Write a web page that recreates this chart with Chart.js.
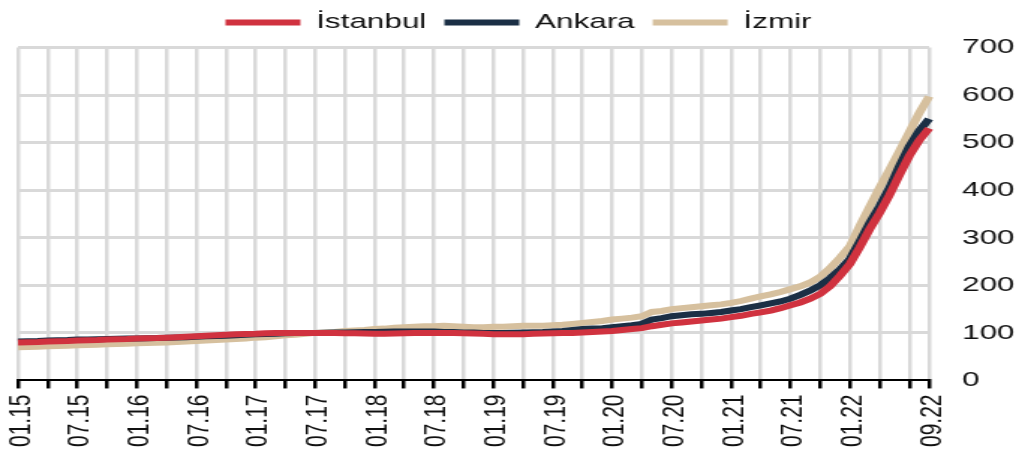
<!DOCTYPE html>
<html>
<head>
<meta charset="utf-8">
<script src="https://cdn.jsdelivr.net/npm/chart.js@4.4.1/dist/chart.umd.min.js"></script>
<style>
    html, body { margin: 0; padding: 0; background: #fff; }
</style>
</head>
<body>
<canvas id="priceChart" width="680" height="455" style="display:block;width:1019px;height:455px;"></canvas>
<script>
// =========================
// Data
// =========================

// monthly categories 01.15 .. 09.22
const months = [];
for (let y = 15; y <= 22; y++) {
    for (let m = 1; m <= 12; m++) {
        if (y === 22 && m > 9) break;
        months.push(String(m).padStart(2, "0") + "." + y);
    }
}

const tickLabels = [
    "01.15", "07.15", "01.16", "07.16", "01.17", "07.17", "01.18", "07.18",
    "01.19", "07.19", "01.20", "07.20", "01.21", "07.21", "01.22", "09.22"
];

const istanbul = [
    80, 80.5, 81, 82, 82.5, 83, 84, 84.5, 85, 86, 86.5, 87,
    88, 88.5, 89, 90, 91, 92, 93, 94, 95, 96, 97, 97.5,
    98, 99, 99.5, 100, 100, 100, 100, 100, 99.5, 99, 99, 98.5,
    98, 98, 98.5, 99, 99.5, 100, 100, 100, 99.5, 99, 98.5, 98,
    97, 97, 97, 97, 98, 98.5, 99, 99.5, 100, 101, 102, 103,
    104, 106, 108, 110, 114, 117, 120, 122, 124, 126, 128, 130,
    133, 136, 140, 143, 147, 152, 158, 164, 172, 182, 198, 220,
    245, 280, 318, 352, 390, 432, 472, 505, 530
];

const ankara = [
    82, 82.5, 83, 84, 84.5, 85, 86, 86, 86.5, 87, 87.5, 88,
    88, 88.5, 89, 90, 90.5, 91, 92, 93, 93.5, 94, 95, 96,
    97, 97.5, 98, 99, 99.5, 100, 100, 100.5, 101, 101, 101.5, 102,
    102, 102.5, 103, 103, 103, 103, 103, 102, 102, 101, 101, 100,
    100, 100, 100.5, 101, 101.5, 102, 103, 104, 106, 108, 109, 110,
    112, 114, 116, 119, 128, 131, 135, 137, 139, 140, 142, 144,
    147, 150, 154, 158, 162, 166, 172, 180, 189, 200, 215, 233,
    255, 292, 331, 366, 405, 450, 492, 525, 550
];

const izmir = [
    70, 70.5, 71, 72, 72.5, 73, 74, 74.5, 75, 76, 76.5, 77,
    78, 78.5, 79, 80, 81, 82, 83, 84, 85, 86, 87, 88,
    90, 91, 93, 95, 96, 98, 100, 101, 102, 104, 105, 106,
    108, 109, 111, 112, 113, 114, 114, 115, 114, 113, 112, 112,
    113, 113, 114, 115, 115, 115, 116, 117, 119, 121, 123, 125,
    128, 130, 132, 135, 144, 146, 150, 152, 154, 156, 158, 160,
    163, 167, 172, 177, 181, 186, 192, 198, 206, 218, 236, 258,
    282, 325, 365, 405, 443, 482, 522, 562, 597
];

// =========================
// Chart
// =========================

Chart.defaults.font.family = "'Liberation Sans', Arial, sans-serif";
Chart.defaults.color = "#111";

// vertical grid every 3 months plus the last month
function isGridIdx(i) {
    return i % 3 === 0 || i === months.length - 1;
}

function series(label, data, color) {
    return {
        label: label,
        data: data,
        borderColor: color,
        backgroundColor: color,
        borderWidth: 6,
        pointRadius: 0,
        tension: 0
    };
}

// a little extra room under the legend
const legendGap = {
    id: "legendGap",
    beforeInit(chart) {
        const fit = chart.legend.fit;
        chart.legend.fit = function () {
            fit.call(this);
            this.height += 4.5;
        };
    }
};

const ctx = document.getElementById("priceChart");

new Chart(ctx, {
    type: "line",
    data: {
        labels: months,
        datasets: [
            series("İstanbul", istanbul, "#d0323f"),
            series("Ankara", ankara, "#1b2f45"),
            series("İzmir", izmir, "#d6c09e")
        ]
    },
    plugins: [legendGap],
    options: {
        responsive: false,
        animation: false,
        layout: {
            padding: { left: 12, right: 0, top: 0, bottom: 2 }
        },
        plugins: {
            tooltip: { enabled: false },
            legend: {
                position: "top",
                labels: {
                    boxWidth: 50,
                    boxHeight: 6,
                    padding: 12,
                    color: "#111",
                    font: { size: 21 },
                    generateLabels: function (chart) {
                        const items = Chart.defaults.plugins.legend.labels.generateLabels(chart);
                        items.forEach(function (it) {
                            it.lineWidth = 0;
                        });
                        return items;
                    }
                }
            }
        },
        scales: {
            x: {
                grid: {
                    color: c => isGridIdx(c.index) ? "#d9d9d9" : "rgba(0,0,0,0)",
                    lineWidth: 2.5,
                    tickColor: c => isGridIdx(c.index) ? "#000" : "rgba(0,0,0,0)",
                    tickWidth: 2.5,
                    tickLength: 8
                },
                border: { display: true, color: "#000", width: 2 },
                ticks: {
                    autoSkip: false,
                    minRotation: 90,
                    maxRotation: 90,
                    padding: 6,
                    labelOffset: 2,
                    color: "#111",
                    font: { size: 21 },
                    callback: function (v, i) {
                        return tickLabels.includes(months[i]) ? months[i] : "";
                    }
                }
            },
            y: {
                position: "right",
                min: 0,
                max: 700,
                afterFit: function (scale) {
                    scale.width = 60;
                },
                ticks: {
                    stepSize: 100,
                    padding: 22,
                    color: "#111",
                    font: { size: 21 }
                },
                grid: {
                    color: c => c.tick.value === 0 ? "rgba(0,0,0,0)" : "#d9d9d9",
                    lineWidth: 3,
                    drawTicks: false
                },
                border: { display: false }
            }
        }
    }
});
</script>
</body>
</html>
